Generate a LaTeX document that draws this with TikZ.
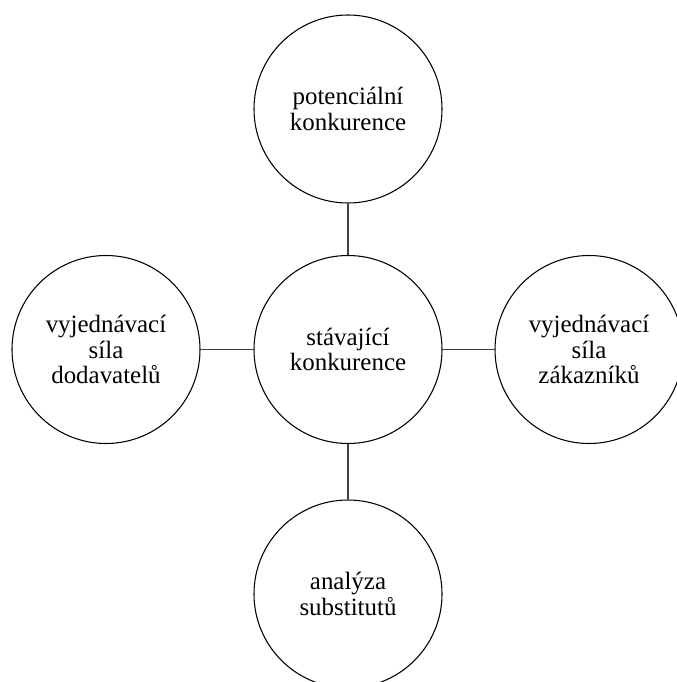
\documentclass[tikz,border=0pt]{standalone}
\usepackage{fontspec}
\setmainfont{Liberation Serif}

\begin{document}
\begin{tikzpicture}[x=0.75pt,y=-0.75pt]
    \pgfmathsetmacro{\circlediameter}{188*0.75}
    \providecommand{\forcefontsize}{\fontsize{18.7pt}{18.9pt}\selectfont}
    \tikzset{
        forcecircle/.style={circle,draw,line width=0.8pt,minimum size=\circlediameter pt,inner sep=0,align=center,font=\forcefontsize},
        link/.style={line width=1pt,draw=black!75}
    }
    \useasboundingbox (0,0) rectangle (677,682);
    \clip (0,0) rectangle (677,682);
    \node[forcecircle] (stav) at (348,349.5) {stávající\\konkurence};
    \node[forcecircle] (pot) at (348,109) {potenciální\\konkurence};
    \node[forcecircle] (dod) at (106,349.5) {vyjednávací\\síla\\dodavatelů};
    \node[forcecircle] (zak) at (589,349.5) {vyjednávací\\síla\\zákazníků};
    \node[forcecircle] (sub) at (348,594) {analýza\\substitutů};
    % spojnice ke stredu
    \draw[link] (stav) -- (pot);
    \draw[link] (stav) -- (dod);
    \draw[link] (stav) -- (zak);
    \draw[link] (stav) -- (sub);
\end{tikzpicture}
\end{document}
